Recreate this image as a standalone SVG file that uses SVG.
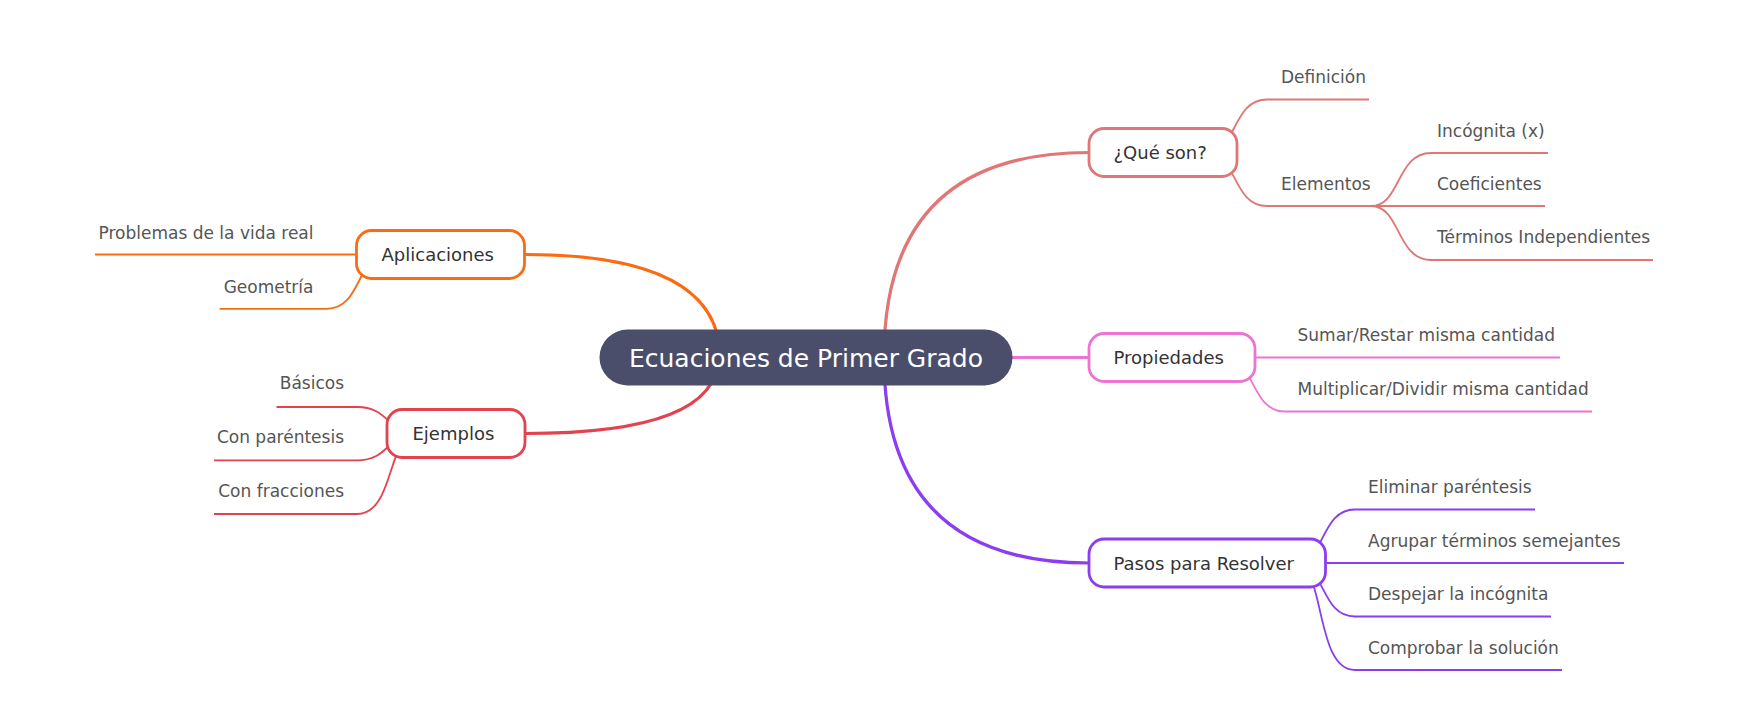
<svg xmlns="http://www.w3.org/2000/svg" width="1748" height="715" viewBox="0 0 1748 715">
<style>
  .main{fill:none;stroke-width:3.2;stroke-linecap:round}
  .sub{fill:none;stroke-width:1.8}
  .br{fill:#fff;stroke-width:2.8}
  .brt{font-family:"DejaVu Sans",sans-serif;font-size:18px;fill:#333}
  .lf{font-family:"DejaVu Sans",sans-serif;font-size:17px;fill:#555}
  .rt{font-family:"DejaVu Sans",sans-serif;font-size:25px;fill:#fff}
  .c1{stroke:#E07676}.c2{stroke:#EC74D3}.c3{stroke:#8B3DEF}.c4{stroke:#FA6B13}.c5{stroke:#E3424F}
</style>
<rect width="1748" height="715" fill="#fff"/>
<g id="connectors">
  <path class="main c1" d="M884,357.5 Q884,152.5 1089,152.5"/>
  <path class="main c2" d="M900,357.5 L1089,357.5"/>
  <path class="main c3" d="M884,357.5 Q884,563 1089,563"/>
  <path class="main c4" d="M720,357.5 Q720,254.5 525,254.5"/>
  <path class="main c5" d="M718,357.5 Q718,433.5 525,433.5"/>
  <path class="sub c1" d="M1207,152.5 C1237,152.5 1232,99.5 1267,99.5 H1369"/>
  <path class="sub c1" d="M1207,152.5 C1237,152.5 1232,206 1267,206 H1372"/>
  <path class="sub c1" d="M1371,206 C1401,206 1396,153 1431,153 H1548"/>
  <path class="sub c1" d="M1371,206 H1545"/>
  <path class="sub c1" d="M1371,206 C1401,206 1396,260 1431,260 H1653"/>
  <path class="sub c2" d="M1225,357.5 H1560"/>
  <path class="sub c2" d="M1225,357.5 C1255,357.5 1250,411.5 1285,411.5 H1592"/>
  <path class="sub c3" d="M1295,563 C1325.5,563 1320,509.5 1355,509.5 H1535"/>
  <path class="sub c3" d="M1295,563 H1624"/>
  <path class="sub c3" d="M1295,563 C1325.5,563 1320,616.5 1355,616.5 H1551"/>
  <path class="sub c3" d="M1295,563 C1325.5,563 1314.5,670 1355,670 H1562"/>
  <path class="sub c4" d="M386.7,254.5 H95"/>
  <path class="sub c4" d="M386.7,254.5 C356.7,254.5 362,308.8 326.7,308.8 H219.6"/>
  <path class="sub c5" d="M417,433.5 C387,433.5 389.6,407 357,407 H276.5"/>
  <path class="sub c5" d="M417,433.5 C387,433.5 389.7,460.4 357,460.4 H214"/>
  <path class="sub c5" d="M417,433.5 C387,433.5 395,514 357,514 H214"/>
</g>
<g id="root">
  <rect x="599.5" y="329.5" width="413" height="56" rx="28" fill="#4B4E6B"/>
  <text class="rt" x="806" y="366.5" text-anchor="middle">Ecuaciones de Primer Grado</text>
</g>
<g id="n-que-son">
  <rect class="br c1" x="1089" y="128.5" width="148" height="48" rx="15"/>
  <text class="brt" x="1113.5" y="158.5">¿Qué son?</text>
</g>
<g id="n-propiedades">
  <rect class="br c2" x="1089" y="333.5" width="166" height="48" rx="15"/>
  <text class="brt" x="1113.5" y="363.5">Propiedades</text>
</g>
<g id="n-pasos">
  <rect class="br c3" x="1089" y="539" width="236.5" height="48" rx="15"/>
  <text class="brt" x="1113.5" y="569.5">Pasos para Resolver</text>
</g>
<g id="n-aplicaciones">
  <rect class="br c4" x="356.5" y="230.5" width="168" height="48" rx="15"/>
  <text class="brt" x="381.5" y="260.5">Aplicaciones</text>
</g>
<g id="n-ejemplos">
  <rect class="br c5" x="387" y="409.5" width="138" height="48" rx="15"/>
  <text class="brt" x="412.5" y="439.5">Ejemplos</text>
</g>
<g id="leaf-definicion"><text class="lf" x="1281" y="83">Definición</text></g>
<g id="leaf-elementos"><text class="lf" x="1281" y="190">Elementos</text></g>
<g id="leaf-incognita"><text class="lf" x="1437" y="136.5">Incógnita (x)</text></g>
<g id="leaf-coeficientes"><text class="lf" x="1437" y="189.5">Coeficientes</text></g>
<g id="leaf-terminos"><text class="lf" x="1437" y="243">Términos Independientes</text></g>
<g id="leaf-sumar"><text class="lf" x="1297.5" y="341">Sumar/Restar misma cantidad</text></g>
<g id="leaf-multiplicar"><text class="lf" x="1297.5" y="394.5">Multiplicar/Dividir misma cantidad</text></g>
<g id="leaf-eliminar"><text class="lf" x="1368" y="493">Eliminar paréntesis</text></g>
<g id="leaf-agrupar"><text class="lf" x="1368" y="546.5">Agrupar términos semejantes</text></g>
<g id="leaf-despejar"><text class="lf" x="1368" y="600">Despejar la incógnita</text></g>
<g id="leaf-comprobar"><text class="lf" x="1368" y="653.5">Comprobar la solución</text></g>
<g id="leaf-problemas"><text class="lf" x="313.5" y="238.5" text-anchor="end">Problemas de la vida real</text></g>
<g id="leaf-geometria"><text class="lf" x="313.5" y="292.5" text-anchor="end">Geometría</text></g>
<g id="leaf-basicos"><text class="lf" x="344" y="389" text-anchor="end">Básicos</text></g>
<g id="leaf-parentesis"><text class="lf" x="344" y="443" text-anchor="end">Con paréntesis</text></g>
<g id="leaf-fracciones"><text class="lf" x="344" y="496.5" text-anchor="end">Con fracciones</text></g>
</svg>
